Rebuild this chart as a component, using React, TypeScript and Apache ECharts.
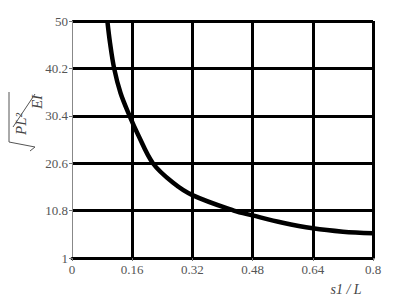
import React, { useEffect, useRef } from "react";
import * as echarts from "echarts";

const xValues = [0.094, 0.101, 0.112, 0.129, 0.153, 0.175, 0.215, 0.268, 0.32, 0.43, 0.48, 0.56, 0.64, 0.72, 0.8];
const yValues = [50, 45.5, 40.2, 35.1, 30.4, 26.6, 20.6, 16.6, 14.0, 10.8, 9.8, 8.3, 7.15, 6.45, 6.1];
const xTicks = { min: 0, max: 0.8, interval: 0.16 };
const yTicks = { min: 1, max: 50, interval: 9.8 };
const xAxisTitle = "s1 / L";

const serif = "'Liberation Serif', 'DejaVu Serif', serif";

export default function App() {
  const ref = useRef<HTMLDivElement>(null);
  useEffect(() => {
    document.body.style.margin = "0";
    if (!ref.current) return;
    const chart = echarts.init(ref.current, undefined, { renderer: "svg" });
    const fmt = (v: number) => String(parseFloat(v.toFixed(2)));
    chart.setOption({
      animation: false,
      backgroundColor: "#ffffff",
      grid: { left: 72, top: 21, right: 32, bottom: 44, containLabel: false },
      xAxis: {
        type: "value",
        min: xTicks.min,
        max: xTicks.max,
        interval: xTicks.interval,
        axisLine: { show: true, lineStyle: { color: "#000", width: 3 } },
        axisTick: { show: true, length: 3, lineStyle: { color: "#777", width: 1 } },
        axisLabel: { color: "#555", fontFamily: serif, fontSize: 13, margin: 5, formatter: fmt },
        splitLine: { show: true, showMinLine: false, lineStyle: { color: "#000", width: 3 } },
      },
      yAxis: {
        type: "value",
        min: yTicks.min,
        max: yTicks.max,
        interval: yTicks.interval,
        axisLine: { show: true, lineStyle: { color: "#888", width: 1 } },
        axisTick: { show: true, length: 3, lineStyle: { color: "#777", width: 1 } },
        axisLabel: { color: "#555", fontFamily: serif, fontSize: 13, margin: 4, formatter: fmt },
        splitLine: { show: true, lineStyle: { color: "#000", width: 3 } },
      },
      series: [
        {
          type: "line",
          data: xValues.map((x, i) => [x, yValues[i]]),
          smooth: 0.35,
          showSymbol: false,
          symbol: "none",
          lineStyle: { color: "#000", width: 4.5 },
          clip: true,
        },
      ],
      graphic: [
        {
          type: "text",
          x: 346,
          y: 289,
          style: {
            text: xAxisTitle,
            font: `italic 14px ${serif}`,
            fill: "#444",
            align: "center",
            verticalAlign: "middle",
          },
        },
        {
          type: "text",
          x: 21,
          y: 124,
          rotation: Math.PI / 2,
          style: {
            text: "PL²",
            font: `italic 15px ${serif}`,
            fill: "#444",
            align: "center",
            verticalAlign: "middle",
          },
        },
        {
          type: "text",
          x: 37,
          y: 102,
          rotation: Math.PI / 2,
          style: {
            text: "EI",
            font: `italic 15px ${serif}`,
            fill: "#444",
            align: "center",
            verticalAlign: "middle",
          },
        },
        {
          type: "line",
          shape: { x1: 13, y1: 127, x2: 35, y2: 94 },
          style: { stroke: "#555", lineWidth: 1 },
        },
        {
          type: "polyline",
          shape: { points: [[9, 92], [9, 142], [35, 147], [30, 151]] },
          style: { stroke: "#555", lineWidth: 1, fill: null },
        },
      ],
    });
    return () => chart.dispose();
  }, []);
  return <div ref={ref} style={{ width: 405, height: 302 }} />;
}
